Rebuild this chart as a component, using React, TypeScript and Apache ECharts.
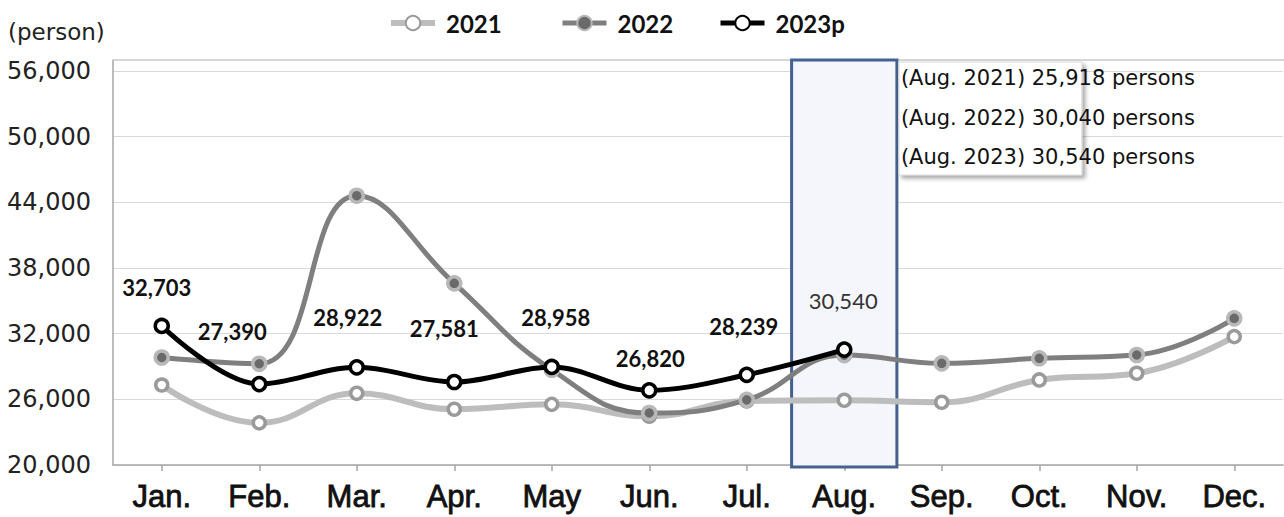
import React, { useEffect, useRef } from "react";
import * as echarts from "echarts";

const months = ["Jan.", "Feb.", "Mar.", "Apr.", "May", "Jun.", "Jul.", "Aug.", "Sep.", "Oct.", "Nov.", "Dec."];
const values2021 = [27310, 23850, 26550, 25090, 25540, 24450, 25850, 25918, 25730, 27770, 28380, 31730];
const values2022 = [29820, 29250, 44600, 36600, 28700, 24750, 25950, 30040, 29290, 29750, 30050, 33400];
const values2023 = [32703, 27390, 28922, 27581, 28958, 26820, 28239, 30540];
const yTicks = [20000, 26000, 32000, 38000, 44000, 50000, 56000];
const seriesNames = ["2021", "2022", "2023p"];
const noteLines = ["(Aug. 2021) 25,918 persons", "(Aug. 2022) 30,040 persons", "(Aug. 2023) 30,540 persons"];
const unitText = "(person)";
const highlightMonth = "Aug.";
// label offsets (px) for the 2023p value labels, relative to each point
const labelOffsets = [[-5, -38], [-27, -53], [-9, -50], [-10, -54], [4, -49], [1, -32], [-3, -48], [-1, -49]];
// left edge (px) of each legend item
const legendLefts = [388, 560, 718];

const fmt = (v: number) => v.toLocaleString("en-US");

export default function App() {
  const ref = useRef<HTMLDivElement>(null);
  useEffect(() => {
    if (!ref.current) return;
    const chart = echarts.init(ref.current, undefined, { renderer: "svg" });
    const gridTop = 60;
    const gridBottom = 52;
    const gridLeft = 113;
    const gridRight = 1;
    const H = 517;
    chart.setOption({
      animation: false,
      backgroundColor: "#ffffff",
      grid: { left: gridLeft, right: gridRight, top: gridTop, bottom: gridBottom, containLabel: false },
      legend: seriesNames.map((n, i) => ({
        left: legendLefts[i],
        top: 11,
        itemWidth: 44,
        itemHeight: 18,
        padding: 0,
        lineStyle: { width: "inherit" },
        textStyle: { fontFamily: "Lato", fontWeight: "bold", fontSize: 24, color: "#111", padding: [0, 0, 0, 6] },
        data: [n],
      })),
      xAxis: {
        type: "category",
        data: months,
        boundaryGap: true,
        axisLine: { show: true, lineStyle: { color: "#a6a6a6", width: 1.5 } },
        axisTick: { show: true, alignWithLabel: true, length: 6, lineStyle: { color: "#a6a6a6", width: 1.5 } },
        axisLabel: {
          fontFamily: "Liberation Sans",
          fontSize: 31,
          color: "#111",
          margin: 16,
          textBorderColor: "#111",
          textBorderWidth: 0.8,
        },
        splitLine: { show: false },
      },
      yAxis: {
        type: "value",
        min: 20000,
        max: 57000,
        axisLine: { show: true, lineStyle: { color: "#a6a6a6", width: 1.5 } },
        axisTick: { show: false, customValues: yTicks },
        axisLabel: {
          customValues: yTicks,
          formatter: (v: number) => fmt(v),
          fontFamily: "DejaVu Sans",
          fontSize: 24,
          color: "#222",
          margin: 22,
        },
        splitLine: { show: true, lineStyle: { color: "#d9d9d9", width: 1 } },
      },
      series: [
        {
          name: seriesNames[0],
          type: "line",
          data: values2021,
          smooth: 0.45,
          symbol: "circle",
          symbolSize: 12,
          lineStyle: { color: "#bdbdbd", width: 6 },
          itemStyle: { color: "#ffffff", borderColor: "#9a9a9a", borderWidth: 3.5 },
          z: 2,
        },
        {
          name: seriesNames[1],
          type: "line",
          data: values2022,
          smooth: 0.45,
          symbol: "circle",
          symbolSize: 13,
          lineStyle: { color: "#7f7f7f", width: 5 },
          itemStyle: { color: "#6a6a6a", borderColor: "#b8b8b8", borderWidth: 3.5 },
          z: 3,
        },
        {
          name: seriesNames[2],
          type: "line",
          data: values2023.map((v, i) => ({
            value: v,
            label: {
              offset: labelOffsets[i],
              fontWeight: i === values2023.length - 1 ? "normal" : "bold",
              color: i === values2023.length - 1 ? "#333" : "#111",
            },
          })),
          smooth: 0.35,
          symbol: "circle",
          symbolSize: 13,
          lineStyle: { color: "#000000", width: 5 },
          itemStyle: { color: "#ffffff", borderColor: "#000000", borderWidth: 3.5 },
          label: {
            show: true,
            position: "inside",
            formatter: (p: any) => fmt(p.value),
            fontFamily: "Lato",
            fontSize: 22,
            color: "#111",
          },
          z: 4,
        },
      ],
    });

    const cx = chart.convertToPixel({ xAxisIndex: 0 }, highlightMonth) as number;
    const band =
      (chart.convertToPixel({ xAxisIndex: 0 }, months[1]) as number) -
      (chart.convertToPixel({ xAxisIndex: 0 }, months[0]) as number);
    const rectW = band * 1.08;
    const rectX = cx - rectW / 2;
    const plotBottom = H - gridBottom;
    const boxX = rectX + rectW + 2;
    const lineGap = 39.5;

    chart.setOption({
      graphic: [
        {
          type: "line",
          shape: { x1: gridLeft, y1: gridTop, x2: 1284, y2: gridTop },
          style: { stroke: "#c8c8c8", lineWidth: 1.5 },
          z: 1,
        },
        {
          type: "text",
          x: 8,
          y: 32,
          style: { text: unitText, fontFamily: "DejaVu Sans", fontSize: 23, fill: "#222", verticalAlign: "middle" },
        },
        {
          type: "rect",
          shape: { x: rectX, y: gridTop, width: rectW, height: plotBottom - gridTop + 2 },
          style: { fill: "#f5f6fb", stroke: "#44618f", lineWidth: 3 },
          z: 1,
        },
        {
          type: "rect",
          shape: { x: boxX, y: gridTop + 2, width: 183, height: 113 },
          style: {
            fill: "#ffffff",
            stroke: "#d6d6d6",
            lineWidth: 1,
            shadowBlur: 4,
            shadowOffsetX: 3,
            shadowOffsetY: 3,
            shadowColor: "rgba(0,0,0,0.35)",
          },
          z: 5,
        },
        ...noteLines.map((t, i) => ({
          type: "text",
          x: boxX + 2,
          y: 78 + i * lineGap,
          style: { text: t, fontFamily: "DejaVu Sans", fontSize: 21, fill: "#111", verticalAlign: "middle" },
          z: 6,
        })),
      ],
    });

    return () => chart.dispose();
  }, []);
  return <div ref={ref} style={{ position: "fixed", left: 0, top: 0, width: 1284, height: 517 }} />;
}
